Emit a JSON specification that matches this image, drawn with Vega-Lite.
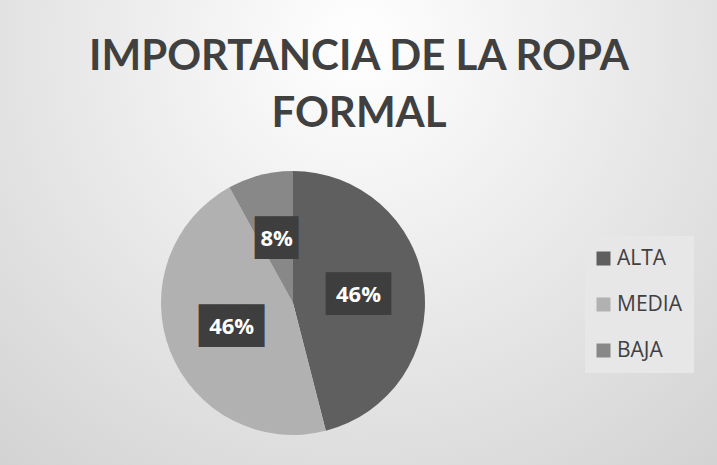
{
  "$schema": "https://vega.github.io/schema/vega-lite/v6.json",
  "autosize": {"type": "none"},
  "width": 876,
  "height": 876,
  "padding": {"left": -145, "top": -135, "right": -14, "bottom": -276},
  "background": "#d8d8d8",
  "view": {
    "stroke": null,
    "fill": {
      "gradient": "radial",
      "x1": 0.575, "y1": 0.205, "r1": 0,
      "x2": 0.575, "y2": 0.205, "r2": 0.64,
      "stops": [
        {"offset": 0, "color": "#ffffff"},
        {"offset": 1, "color": "#d2d2d2"}
      ]
    }
  },
  "title": {
    "text": ["IMPORTANCIA DE LA ROPA", "FORMAL"],
    "font": "Lato",
    "fontSize": 42,
    "fontWeight": "bold",
    "color": "#404040",
    "lineHeight": 57,
    "anchor": "middle",
    "frame": "group",
    "dx": 66,
    "offset": -271
  },
  "data": {
    "values": [
      {"categoria": "ALTA", "valor": 0.46, "orden": 1},
      {"categoria": "MEDIA", "valor": 0.46, "orden": 2},
      {"categoria": "BAJA", "valor": 0.08, "orden": 3}
    ]
  },
  "encoding": {
    "theta": {"field": "valor", "type": "quantitative", "stack": true},
    "order": {"field": "orden", "type": "quantitative"}
  },
  "layer": [
    {
      "mark": {"type": "arc", "outerRadius": 132},
      "encoding": {
        "color": {
          "field": "categoria",
          "type": "nominal",
          "sort": ["ALTA", "MEDIA", "BAJA"],
          "scale": {"domain": ["ALTA", "MEDIA", "BAJA"], "range": ["#5f5f5f", "#b1b1b1", "#888888"]},
          "legend": {
            "title": null,
            "orient": "none",
            "legendX": 730,
            "legendY": 371,
            "fillColor": "#e7e7e7",
            "padding": 12,
            "symbolType": "square",
            "symbolSize": 196,
            "symbolStrokeWidth": 0,
            "symbolOffset": -4,
            "labelFont": "Open Sans",
            "labelFontSize": 21,
            "labelColor": "#404040",
            "labelOffset": 3,
            "labelLimit": 300,
            "rowPadding": 24
          }
        }
      }
    },
    {
      "mark": {"type": "text", "radius": 66, "font": "DejaVu Sans Mono", "fontSize": 36, "fill": "#3e3e3e", "align": "center", "baseline": "middle"},
      "encoding": {
        "text": {"condition": {"test": "datum.categoria === 'BAJA'", "value": "██"}, "value": "███"}
      }
    },
    {
      "mark": {"type": "text", "radius": 66, "font": "Open Sans", "fontSize": 22, "fontWeight": "bold", "fill": "#ffffff", "align": "center", "baseline": "middle"},
      "encoding": {
        "text": {"field": "valor", "type": "quantitative", "format": ".0%"}
      }
    }
  ]
}
